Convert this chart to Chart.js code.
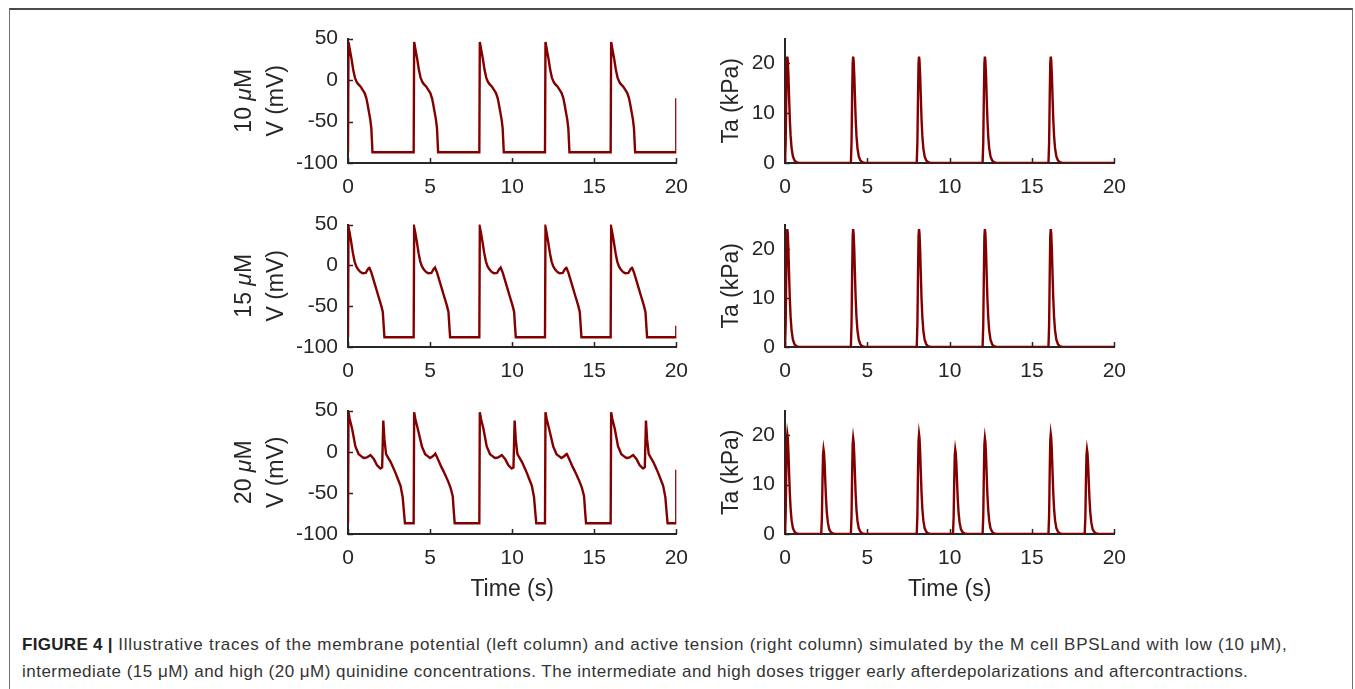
<!DOCTYPE html>
<html>
<head>
<meta charset="utf-8">
<script src="https://cdn.jsdelivr.net/npm/chart.js@4.4.0/dist/chart.umd.min.js"></script>
<style>
  html, body { margin: 0; padding: 0; background: #fff; }
  body { width: 1355px; height: 689px; position: relative; overflow: hidden; font-family: 'Liberation Sans', Arial, sans-serif; }
  .frame { position: absolute; left: 9px; top: 8px; width: 1344px; height: 720px; box-sizing: border-box;
           border: 1px solid #707070; border-top: 2px solid #4a4a4a; }
  canvas.panel { position: absolute; }
  .caption { position: absolute; left: 22px; top: 631px; font-size: 17px; line-height: 27px; color: #333; white-space: nowrap; }
  .caption div:first-child { letter-spacing: 0.72px; }
  .caption div:last-child { letter-spacing: 0.49px; }
  .caption b { color: #222; letter-spacing: 0.3px; }
</style>
</head>
<body>
<div class="frame"></div>
<div id="panels"></div>
<div class="caption">
  <div><b>FIGURE 4 |</b> Illustrative traces of the membrane potential (left column) and active tension (right column) simulated by the M cell BPSLand with low (10 μM),</div>
  <div>intermediate (15 μM) and high (20 μM) quinidine concentrations. The intermediate and high doses trigger early afterdepolarizations and aftercontractions.</div>
</div>

<script>
// ---- data ----------------------------------------------------------------
const concentrations = ['10', '15', '20'];   // quinidine, uM
const beatOnsets = [0, 4, 8, 12, 16];        // stimulus times (s)

// action potential of one beat: time after stimulus (s) / membrane potential (mV)
const ap10Time = [0, 0.03, 0.1, 0.22, 0.32, 0.42, 0.52, 0.62, 0.77, 0.92, 1.02, 1.12, 1.2, 1.28, 1.36, 1.42, 1.46, 1.49];
const ap10Volt = [-87, 46, 38, 25, 12, 3, -2, -5, -8, -12.6, -16, -22, -30, -39, -48, -58, -74, -87];

const ap15Time = [0, 0.03, 0.1, 0.2, 0.3, 0.4, 0.5, 0.6, 0.75, 0.9, 1.08, 1.2, 1.3, 1.42, 1.62, 1.82, 2.02, 2.12, 2.18, 2.22];
const ap15Volt = [-88, 47, 40, 28, 15, 5, -1, -4.6, -8, -9.7, -9.3, -5, -2.7, -8.5, -22, -35.7, -49, -57, -76, -88];

// 20 uM: beats carrying an early afterdepolarization alternate with plain ones
const ap20EadTime = [0, 0.03, 0.1, 0.25, 0.45, 0.65, 0.95, 1.15, 1.37, 1.57, 1.77, 1.97, 2.08, 2.15, 2.22, 2.32, 2.6, 2.9, 3.2, 3.33, 3.42, 3.47];
const ap20EadVolt = [-87, 48, 40, 28, 6.5, -3, -7.7, -6.9, -4, -8.8, -16.5, -20.4, -19, 38, 15, -3, -12.6, -26, -41.5, -55, -76, -87];
const ap20PlainTime = [0, 0.03, 0.1, 0.25, 0.5, 0.7, 1.0, 1.2, 1.32, 1.5, 1.7, 1.9, 2.1, 2.25, 2.38, 2.45, 2.5];
const ap20PlainVolt = [-87, 48, 40, 28, 6.5, -3, -7.7, -5, -2.3, -10, -19, -27, -36, -44, -54, -74, -87];
const ap20Kinds = ['ead', 'plain', 'ead', 'plain', 'ead'];

// value of the last sample (t = 20 s), caught part way up the next upstroke
const vEndValues = [-22, -74, -22];

// active tension of one twitch: time after onset (s) / tension (kPa)
const taTime = [0, 0.04, 0.08, 0.11, 0.14, 0.17, 0.21, 0.25, 0.29, 0.34, 0.4, 0.48, 0.58, 0.7, 0.85];
const ta10Beat = [0, 4, 14, 20, 21.4, 20.5, 17.5, 13, 9, 5.5, 3, 1.3, 0.5, 0.15, 0];
const ta15Beat = [0, 4.5, 15.5, 22.6, 24.1, 23.1, 19.6, 14.6, 10.1, 6.2, 3.4, 1.5, 0.55, 0.15, 0];
const ta20Stim = [0, 3.8, 13.3, 18.9, 20.2, 19.4, 16.5, 12.3, 8.5, 5.2, 2.8, 1.2, 0.45, 0.12, 0];
const ta20Ead = [0, 3.2, 11.2, 16, 17.1, 16.4, 14, 10.4, 7.2, 4.4, 2.4, 1, 0.4, 0.1, 0];
const ta20Next = [0, 3.6, 12.7, 18.2, 19.4, 18.6, 15.8, 11.8, 8.1, 5, 2.7, 1.15, 0.45, 0.12, 0];
const ta20Onsets = [0, 2.2, 4, 8, 10.2, 12, 16, 18.2];
const ta20Kinds = ['stim', 'ead', 'next', 'stim', 'ead', 'next', 'stim', 'ead'];

// ---- building the traces -------------------------------------------------
function chain(onsets, beats) {
  const pts = [];
  onsets.forEach((t0, i) => {
    const b = beats[i];
    b.t.forEach((dt, j) => pts.push({ x: t0 + dt, y: b.v[j] }));
  });
  return pts;
}

const ap10 = { t: ap10Time, v: ap10Volt };
const ap15 = { t: ap15Time, v: ap15Volt };
const ap20 = { ead: { t: ap20EadTime, v: ap20EadVolt }, plain: { t: ap20PlainTime, v: ap20PlainVolt } };
const ta20 = { stim: ta20Stim, ead: ta20Ead, next: ta20Next };

const vTraces = [
  chain(beatOnsets, beatOnsets.map(() => ap10)),
  chain(beatOnsets, beatOnsets.map(() => ap15)),
  chain(beatOnsets, ap20Kinds.map(k => ap20[k]))
];
vTraces.forEach((pts, i) => {
  pts.push({ x: 20, y: pts[0].y }, { x: 20, y: vEndValues[i] });
});

const taTraces = [
  chain(beatOnsets, beatOnsets.map(() => ({ t: taTime, v: ta10Beat }))),
  chain(beatOnsets, beatOnsets.map(() => ({ t: taTime, v: ta15Beat }))),
  chain(ta20Onsets, ta20Kinds.map(k => ({ t: taTime, v: ta20[k] })))
];
taTraces.forEach(pts => pts.push({ x: 20, y: 0 }));

// ---- look and layout -----------------------------------------------------
const AXIS = '#262626';
const TRACE = '#830000';
const FONT = "'Liberation Sans', Arial, sans-serif";
const TICK_SIZE = 21;
const TITLE_SIZE = 23;

const rowTops = [32, 218, 404];
const rowBottoms = [163, 347, 534];
const columns = {
  v:  { left: 220, axisWidth: 128, plotWidth: 332, titlePad: 43 },
  ta: { left: 700, axisWidth: 85,  plotWidth: 333, titlePad: 18 }
};
const PAD_TOP = 16;
const PAD_RIGHT = 20;

// MATLAB style tick marks pointing into the axes
const innerTicks = {
  id: 'innerTicks',
  beforeDatasetsDraw(chart) {
    const { ctx, chartArea, scales } = chart;
    ctx.save();
    ctx.strokeStyle = AXIS;
    ctx.lineWidth = 1.5;
    ctx.beginPath();
    scales.x.ticks.forEach(t => {
      const px = Math.round(scales.x.getPixelForValue(t.value)) + 0.5;
      ctx.moveTo(px, chartArea.bottom);
      ctx.lineTo(px, chartArea.bottom - 5);
    });
    scales.y.ticks.forEach(t => {
      const py = Math.round(scales.y.getPixelForValue(t.value)) + 0.5;
      ctx.moveTo(chartArea.left, py);
      ctx.lineTo(chartArea.left + 5, py);
    });
    ctx.stroke();
    ctx.restore();
  }
};

// "10 \muM" row label with an italic mu, rotated like the axis title
const concLabel = {
  id: 'concLabel',
  afterDraw(chart, args, opts) {
    if (!opts.value) return;
    const { ctx, chartArea } = chart;
    const parts = [
      { s: opts.value + ' ', f: `${TITLE_SIZE}px ${FONT}` },
      { s: 'μ', f: `italic ${TITLE_SIZE}px ${FONT}` },
      { s: 'M', f: `${TITLE_SIZE}px ${FONT}` }
    ];
    ctx.save();
    let total = 0;
    parts.forEach(p => { ctx.font = p.f; p.w = ctx.measureText(p.s).width; total += p.w; });
    ctx.translate(opts.x, (chartArea.top + chartArea.bottom) / 2);
    ctx.rotate(-Math.PI / 2);
    ctx.fillStyle = AXIS;
    ctx.textBaseline = 'middle';
    ctx.textAlign = 'left';
    let x = -total / 2;
    parts.forEach(p => { ctx.font = p.f; ctx.fillText(p.s, x, 0); x += p.w; });
    ctx.restore();
  }
};

function addPanel(col, row, data, yScale, yTitle) {
  const last = row === 2;
  const xHeight = last ? 72 : 45;
  const canvas = document.createElement('canvas');
  canvas.className = 'panel';
  canvas.width = col.axisWidth + col.plotWidth + PAD_RIGHT;
  canvas.height = PAD_TOP + (rowBottoms[row] - rowTops[row]) + xHeight;
  canvas.style.left = col.left + 'px';
  canvas.style.top = (rowTops[row] - PAD_TOP) + 'px';
  document.getElementById('panels').appendChild(canvas);

  const tickFont = { family: FONT, size: TICK_SIZE };
  const titleFont = { family: FONT, size: TITLE_SIZE };

  return new Chart(canvas, {
    type: 'line',
    data: {
      datasets: [{
        data: data,
        borderColor: TRACE,
        borderWidth: 2.4,
        pointRadius: 0,
        // a hair of tension keeps Chart.js off its pixel-binning fast path,
        // which would otherwise chew up the narrow tension spikes
        tension: 0.0001,
        fill: false
      }]
    },
    options: {
      responsive: false,
      animation: false,
      events: [],
      layout: { padding: { top: PAD_TOP, right: PAD_RIGHT, left: 0, bottom: 0 } },
      plugins: {
        legend: { display: false },
        tooltip: { enabled: false },
        concLabel: col === columns.v ? { value: concentrations[row], x: 25 } : {}
      },
      scales: {
        x: {
          type: 'linear',
          min: 0,
          max: 20,
          ticks: { stepSize: 5, padding: 12, color: AXIS, font: tickFont, maxRotation: 0 },
          grid: { drawOnChartArea: false, drawTicks: false },
          border: { color: AXIS, width: 2 },
          title: { display: last, text: 'Time (s)', color: AXIS, font: titleFont, padding: { top: 0, bottom: 3 } },
          afterFit: s => { s.height = xHeight; }
        },
        y: Object.assign({
          type: 'linear',
          ticks: Object.assign({ padding: 10, color: AXIS, font: tickFont }, yScale.ticks),
          grid: { drawOnChartArea: false, drawTicks: false },
          border: { color: AXIS, width: 2 },
          title: { display: true, text: yTitle, color: AXIS, font: titleFont, padding: { top: col.titlePad, bottom: 0 } },
          afterFit: s => { s.width = col.axisWidth; }
        }, yScale.range)
      }
    },
    plugins: [innerTicks, concLabel]
  });
}

const vScale = { range: { min: -100, max: 50 }, ticks: { stepSize: 50 } };
const taScale = {
  range: {
    min: 0,
    max: 25,
    afterBuildTicks: s => { s.ticks = s.ticks.filter(t => t.value % 10 === 0); }
  },
  ticks: { stepSize: 10 }
};

for (let row = 0; row < 3; row++) {
  addPanel(columns.v, row, vTraces[row], vScale, 'V (mV)');
  addPanel(columns.ta, row, taTraces[row], taScale, 'Ta (kPa)');
}
</script>
</body>
</html>
